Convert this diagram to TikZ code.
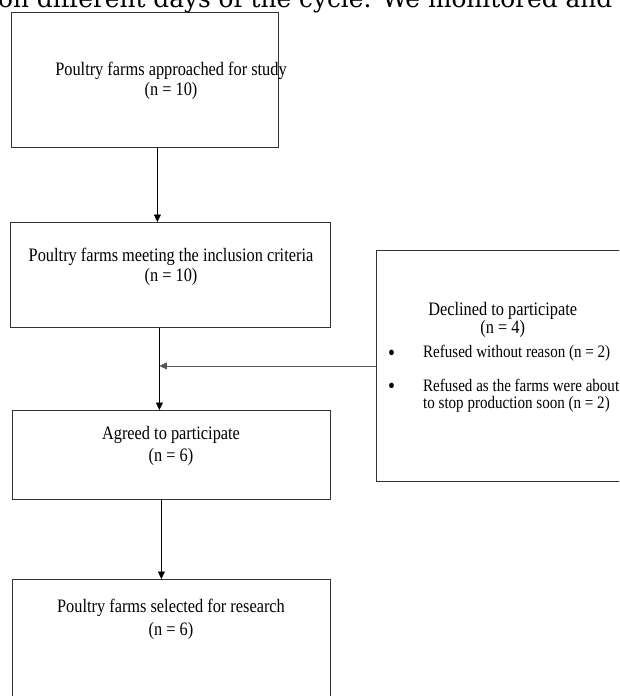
\documentclass[tikz,border=0pt]{standalone}
\usepackage{fontspec}
\setmainfont{Liberation Serif}[FakeStretch=0.86]
\newfontfamily\parafont{DejaVu Serif}
\usetikzlibrary{positioning, arrows.meta}
\definecolor{cLine}{HTML}{333333}
\definecolor{cFeed}{HTML}{555555}
\newcommand{\boxfont}{\fontsize{19}{20}\selectfont}
\newcommand{\notefont}{\fontsize{17.5}{16.7}\selectfont}
\newcommand{\listdot}{\hspace*{2pt}\raisebox{-2.5pt}{\fontsize{23}{0}\selectfont\textbullet}}
\tikzset{
  flowbox/.style={
    draw=cLine, line width=0.8pt,
    anchor=north west,
    inner sep=0pt
  },
  boxtext/.style={
    font=\boxfont,
    align=center,
    anchor=north,
    inner sep=0pt
  },
  flow/.style={
    -{Triangle[length=7.5pt,width=7pt]},
    line width=0.7pt,
    draw=black
  }
}

\begin{document}
\begin{tikzpicture}[x=1pt, y=-1pt]
  \useasboundingbox (0,0) rectangle (619,696);
  \clip (0,0) rectangle (619,696);

  % running text of the page, cut at the top
  \node[font=\parafont\fontsize{24.8}{26}\selectfont, anchor=base west, inner sep=0pt] (para) at (-2,7.5)
    {on different days of the cycle. We monitored and};

  % main column
  \node[flowbox, minimum width=267pt, minimum height=135pt] (b1) at (11,12) {};
  \node[flowbox, minimum width=320pt, minimum height=105pt] (b2) at (10,222) {};
  \node[flowbox, minimum width=318pt, minimum height=89pt] (b3) at (12,410) {};
  \node[flowbox, minimum width=318pt, minimum height=150pt] (b4) at (12,579) {};

  \node[boxtext] (t1) at (171,62.3) {Poultry farms approached for study\\[0pt](n = 10)};
  \node[boxtext] (t2) at (171,247.7) {Poultry farms meeting the inclusion criteria\\[0pt](n = 10)};
  \node[boxtext] (t3) at (171,426) {Agreed to participate\\[2.6pt](n = 6)};
  \node[boxtext] (t4) at (171,598.7) {Poultry farms selected for research\\[3pt](n = 6)};

  % side box
  \node[flowbox, minimum width=300pt, minimum height=231pt] (decl) at (376,250) {};
  \node[font=\notefont, anchor=base west, inner sep=0pt] (tdecl) at (386,315) {%
    \begin{tabular}[t]{@{}p{37pt}@{}l@{}}
      \multicolumn{2}{@{}c@{}}{\boxfont Declined to participate}\\[0pt]
      \multicolumn{2}{@{}c@{}}{\boxfont (n = 4)}\\[7pt]
      \listdot & Refused without reason (n = 2)\\[16.3pt]
      \listdot & Refused as the farms were about\\
               & to stop production soon (n = 2)
    \end{tabular}};

  \coordinate (merge) at ([xshift=-11pt]b2.south |- decl.west);

  \draw[flow] ([xshift=12.5pt]b1.south) -- ([xshift=12.5pt]b1.south |- b2.north);
  \draw[flow] ([xshift=-11pt]b2.south) -- ([xshift=-11pt]b2.south |- b3.north);
  \draw[flow, draw=cFeed] (decl.west) -- (merge);
  \draw[flow] ([xshift=-10pt]b3.south) -- ([xshift=-10pt]b3.south |- b4.north);
\end{tikzpicture}
\end{document}
